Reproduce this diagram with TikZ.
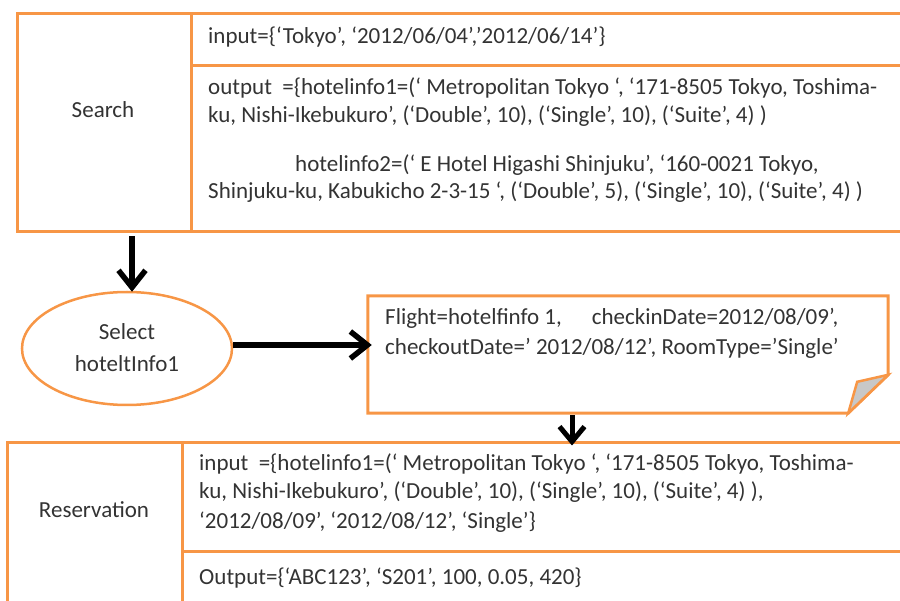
\documentclass[tikz,border=0pt]{standalone}
\usepackage{fontspec}
\setmainfont{Carlito}
\usetikzlibrary{arrows.meta,shapes.geometric}
\definecolor{orng}{HTML}{F79646}
\definecolor{txtc}{HTML}{333333}
\definecolor{foldc}{HTML}{C8C8C8}
\begin{document}
\begin{tikzpicture}[x=1pt,y=-1pt,
  box/.style={draw=orng,line width=3pt,inner sep=0pt,minimum width=#1},
  txt/.style={inner sep=0pt,anchor=base west,text=txtc,font=\fontsize{23}{29}\selectfont},
  lbl/.style={inner sep=0pt,anchor=base,text=txtc,font=\fontsize{23}{29}\selectfont},
  ell/.style={draw=orng,line width=2.5pt,ellipse,inner sep=0pt,minimum width=210pt,minimum height=113pt},
  notel/.style={draw=orng,line width=3pt,line join=miter},
  arr/.style={draw=black,line width=5.5pt,-{Straight Barb[length=17pt,width=27pt]}},
  arrs/.style={draw=black,line width=5pt,-{Straight Barb[length=15pt,width=25pt]}}]
\useasboundingbox (0,0) rectangle (900,601);
\clip (0,0) rectangle (900,601);
% Search block
\node[box=174pt,minimum height=218pt] (search) at (104,123) {};
\node[box=729pt,minimum height=52pt] (sin) at (555.5,40) {};
\node[box=729pt,minimum height=166pt] (sout) at (555.5,149) {};
\node[lbl] (searchl) at (103,118) {Search};
\node[txt] (s1) at (208,44) {input=\{‘Tokyo’, ‘2012/06/04’,’2012/06/14’\}};
\node[txt] (s2) at (208,95) {output~~=\{hotelinfo1=(‘ Metropolitan Tokyo ‘, ‘171-8505 Tokyo, Toshima-};
\node[txt] (s3) at (208,123) {ku, Nishi-Ikebukuro’, (‘Double’, 10), (‘Single’, 10), (‘Suite’, 4) )};
\node[txt] (s4) at (295,172) {hotelinfo2=(‘ E Hotel Higashi Shinjuku’, ‘160-0021 Tokyo,};
\node[txt] (s5) at (208,199) {Shinjuku-ku, Kabukicho 2-3-15 ‘, (‘Double’, 5), (‘Single’, 10), (‘Suite’, 4) )};
% Select ellipse
\node[ell] (sel) at (127,348.5) {};
\node[lbl] (sell1) at (127,340) {Select};
\node[lbl] (sell2) at (127,372) {hoteltInfo1};
% Note
\node[inner sep=0pt,minimum width=520pt,minimum height=117pt] (note) at (628,354.5) {};
\draw[notel] (note.north west) -- (note.north east) -- ([yshift=-79pt]note.north east)
  -- ([xshift=-40pt]note.south east) -- (note.south west) -- cycle;
\draw[notel,line width=2.5pt,fill=foldc] ([yshift=-79pt]note.north east) -- ([xshift=-31pt,yshift=-86pt]note.north east)
  -- ([xshift=-40pt]note.south east) -- cycle;
\node[txt] (n1) at (385,325) {Flight=hotelfinfo 1,\hspace{30pt}checkinDate=2012/08/09’,};
\node[txt] (n2) at (385,355) {checkoutDate=’ 2012/08/12’, RoomType=’Single’};
% Reservation block
\node[box=175pt,minimum height=177pt] (res) at (94.5,531.5) {};
\node[box=738pt,minimum height=108pt] (rin) at (551,497) {};
\node[box=738pt,minimum height=69pt] (rout) at (551,585.5) {};
\node[lbl] (resl) at (94,517) {Reservation};
\node[txt] (r1) at (199,471) {input~~=\{hotelinfo1=(‘ Metropolitan Tokyo ‘, ‘171-8505 Tokyo, Toshima-};
\node[txt] (r2) at (199,499) {ku, Nishi-Ikebukuro’, (‘Double’, 10), (‘Single’, 10), (‘Suite’, 4) ),};
\node[txt] (r3) at (199,528) {‘2012/08/09’, ‘2012/08/12’, ‘Single’\}};
\node[txt] (r4) at (199,584) {Output=\{‘ABC123’, ‘S201’, 100, 0.05, 420\}};
% Arrows
\draw[arr] ([xshift=28pt,yshift=-3pt]search.south) -- ([xshift=5pt,yshift=-1pt]sel.north);
\draw[arr] ([yshift=3.5pt]sel.east) -- ([xshift=4pt,yshift=3.5pt]sel.east -| note.west);
\draw[arrs] ([xshift=-56pt,yshift=-2pt]note.south) -- ([xshift=21pt,yshift=-4pt]rin.north);
\end{tikzpicture}
\end{document}
